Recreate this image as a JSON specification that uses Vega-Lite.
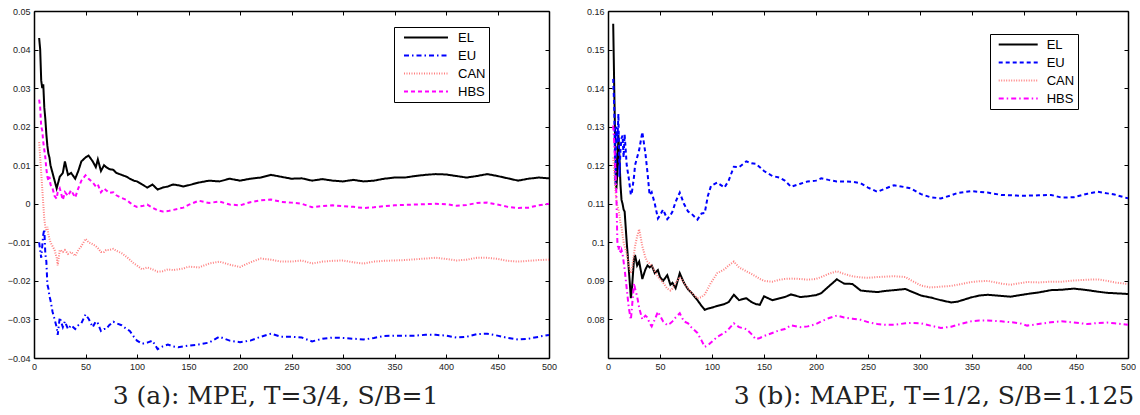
{
  "$schema": "https://vega.github.io/schema/vega-lite/v6.json",
  "padding": {"left": 7, "top": 7, "right": 0, "bottom": 0},
  "background": "white",
  "config": {
    "view": {"stroke": null},
    "axis": {"grid": false, "domainColor": "black", "domainWidth": 1.5, "tickColor": "black", "tickWidth": 1, "tickSize": -4, "labelFont": "Liberation Sans", "labelFontSize": 9, "labelColor": "#222", "labelPadding": 8, "title": null, "labelFlush": false},
    "legend": {"orient": "none", "title": null, "strokeColor": "black", "fillColor": "white", "symbolType": "M-1,0H6.33", "symbolSize": 144, "labelFont": "Liberation Sans", "labelFontSize": 13, "labelColor": "black", "rowPadding": 4, "padding": 3.5}
  },
  "datasets": {
    "mpe": [
      {"x":5,"EL":0.043,"EU":-0.010,"CAN":0.016,"HBS":0.027},
      {"x":6,"EL":0.040,"EU":-0.012,"CAN":0.012,"HBS":0.025},
      {"x":7,"EL":0.032,"EU":-0.014,"CAN":0.008,"HBS":0.020},
      {"x":8,"EL":0.030,"EU":-0.011,"CAN":0.004,"HBS":0.019},
      {"x":9,"EL":0.031,"EU":-0.008,"CAN":0.000,"HBS":0.016},
      {"x":10,"EL":0.025,"EU":-0.0066,"CAN":-0.004,"HBS":0.014},
      {"x":11,"EL":0.022,"EU":-0.013,"CAN":-0.006,"HBS":0.012},
      {"x":12,"EL":0.018,"EU":-0.015,"CAN":-0.007,"HBS":0.009},
      {"x":13,"EL":0.015,"EU":-0.021,"CAN":-0.006,"HBS":0.007},
      {"x":14,"EL":0.013,"EU":-0.022,"CAN":-0.008,"HBS":0.006},
      {"x":15,"EL":0.012,"EU":-0.024,"CAN":-0.009,"HBS":0.007},
      {"x":16,"EL":0.010,"EU":-0.025,"CAN":-0.010,"HBS":0.005},
      {"x":18,"EL":0.008,"EU":-0.028,"CAN":-0.011,"HBS":0.004},
      {"x":20,"EL":0.006,"EU":-0.030,"CAN":-0.012,"HBS":0.002},
      {"x":22,"EL":0.004,"EU":-0.032,"CAN":-0.014,"HBS":0.0013},
      {"x":23,"EL":0.005,"EU":-0.034,"CAN":-0.016,"HBS":0.003},
      {"x":25,"EL":0.007,"EU":-0.0295,"CAN":-0.012,"HBS":0.004},
      {"x":28,"EL":0.008,"EU":-0.032,"CAN":-0.0125,"HBS":0.001},
      {"x":30,"EL":0.011,"EU":-0.0305,"CAN":-0.012,"HBS":0.003},
      {"x":33,"EL":0.0075,"EU":-0.0325,"CAN":-0.013,"HBS":0.002},
      {"x":36,"EL":0.008,"EU":-0.0315,"CAN":-0.0125,"HBS":0.0035},
      {"x":40,"EL":0.0065,"EU":-0.0325,"CAN":-0.0135,"HBS":0.0016},
      {"x":43,"EL":0.0085,"EU":-0.0315,"CAN":-0.012,"HBS":0.004},
      {"x":46,"EL":0.011,"EU":-0.031,"CAN":-0.011,"HBS":0.006},
      {"x":50,"EL":0.012,"EU":-0.0287,"CAN":-0.0091,"HBS":0.0074},
      {"x":53,"EL":0.0125,"EU":-0.0298,"CAN":-0.010,"HBS":0.0065},
      {"x":57,"EL":0.011,"EU":-0.032,"CAN":-0.0105,"HBS":0.0055},
      {"x":60,"EL":0.0095,"EU":-0.0305,"CAN":-0.011,"HBS":0.0045},
      {"x":62,"EL":0.0115,"EU":-0.031,"CAN":-0.0115,"HBS":0.005},
      {"x":65,"EL":0.0085,"EU":-0.033,"CAN":-0.0125,"HBS":0.003},
      {"x":68,"EL":0.010,"EU":-0.0325,"CAN":-0.0125,"HBS":0.004},
      {"x":70,"EL":0.0095,"EU":-0.0325,"CAN":-0.012,"HBS":0.0035},
      {"x":73,"EL":0.009,"EU":-0.0315,"CAN":-0.012,"HBS":0.0028},
      {"x":77,"EL":0.0088,"EU":-0.0306,"CAN":-0.0117,"HBS":0.003},
      {"x":80,"EL":0.008,"EU":-0.031,"CAN":-0.0122,"HBS":0.0022},
      {"x":85,"EL":0.0075,"EU":-0.0315,"CAN":-0.0128,"HBS":0.0015},
      {"x":90,"EL":0.007,"EU":-0.0325,"CAN":-0.0138,"HBS":0.001},
      {"x":93,"EL":0.0065,"EU":-0.033,"CAN":-0.0145,"HBS":0.0003},
      {"x":97,"EL":0.006,"EU":-0.0345,"CAN":-0.0155,"HBS":-0.0005},
      {"x":100,"EL":0.0058,"EU":-0.0355,"CAN":-0.016,"HBS":-0.0008},
      {"x":105,"EL":0.005,"EU":-0.0363,"CAN":-0.017,"HBS":-0.0006},
      {"x":110,"EL":0.0042,"EU":-0.036,"CAN":-0.0165,"HBS":-0.0002},
      {"x":115,"EL":0.005,"EU":-0.0355,"CAN":-0.017,"HBS":-0.001},
      {"x":120,"EL":0.0037,"EU":-0.0377,"CAN":-0.0176,"HBS":-0.0017},
      {"x":125,"EL":0.0042,"EU":-0.037,"CAN":-0.0175,"HBS":-0.002},
      {"x":130,"EL":0.0045,"EU":-0.0365,"CAN":-0.017,"HBS":-0.0019},
      {"x":135,"EL":0.005,"EU":-0.037,"CAN":-0.0172,"HBS":-0.0016},
      {"x":140,"EL":0.0048,"EU":-0.0372,"CAN":-0.017,"HBS":-0.0013},
      {"x":145,"EL":0.0045,"EU":-0.037,"CAN":-0.0168,"HBS":-0.001},
      {"x":150,"EL":0.0048,"EU":-0.0368,"CAN":-0.0163,"HBS":-0.0003},
      {"x":160,"EL":0.0055,"EU":-0.0365,"CAN":-0.0165,"HBS":0.0008},
      {"x":170,"EL":0.006,"EU":-0.036,"CAN":-0.0155,"HBS":0.0002},
      {"x":180,"EL":0.0058,"EU":-0.0345,"CAN":-0.015,"HBS":0.0006},
      {"x":190,"EL":0.0065,"EU":-0.0355,"CAN":-0.0158,"HBS":-0.0002},
      {"x":200,"EL":0.006,"EU":-0.0359,"CAN":-0.0164,"HBS":-0.0004},
      {"x":210,"EL":0.0065,"EU":-0.0355,"CAN":-0.0152,"HBS":0.0004},
      {"x":220,"EL":0.0068,"EU":-0.0345,"CAN":-0.0142,"HBS":0.0009},
      {"x":230,"EL":0.0075,"EU":-0.0337,"CAN":-0.0145,"HBS":0.0011},
      {"x":240,"EL":0.007,"EU":-0.0345,"CAN":-0.015,"HBS":0.0005},
      {"x":250,"EL":0.0065,"EU":-0.0345,"CAN":-0.015,"HBS":0.0003},
      {"x":260,"EL":0.0066,"EU":-0.0347,"CAN":-0.0147,"HBS":0.0},
      {"x":270,"EL":0.006,"EU":-0.0357,"CAN":-0.0155,"HBS":-0.0009},
      {"x":280,"EL":0.0064,"EU":-0.035,"CAN":-0.015,"HBS":-0.0006},
      {"x":290,"EL":0.006,"EU":-0.0347,"CAN":-0.0148,"HBS":-0.0004},
      {"x":300,"EL":0.0058,"EU":-0.0348,"CAN":-0.0147,"HBS":-0.0006},
      {"x":310,"EL":0.0062,"EU":-0.035,"CAN":-0.0152,"HBS":-0.0008},
      {"x":320,"EL":0.0058,"EU":-0.0352,"CAN":-0.0155,"HBS":-0.0011},
      {"x":330,"EL":0.006,"EU":-0.0348,"CAN":-0.015,"HBS":-0.0009},
      {"x":340,"EL":0.0065,"EU":-0.0343,"CAN":-0.0148,"HBS":-0.0006},
      {"x":350,"EL":0.0068,"EU":-0.0342,"CAN":-0.0147,"HBS":-0.0004},
      {"x":360,"EL":0.0068,"EU":-0.0342,"CAN":-0.0146,"HBS":-0.0003},
      {"x":370,"EL":0.0072,"EU":-0.0342,"CAN":-0.0144,"HBS":-0.0002},
      {"x":380,"EL":0.0075,"EU":-0.034,"CAN":-0.0142,"HBS":-0.0001},
      {"x":390,"EL":0.0077,"EU":-0.034,"CAN":-0.014,"HBS":0.0},
      {"x":400,"EL":0.0076,"EU":-0.0342,"CAN":-0.0143,"HBS":-0.0001},
      {"x":410,"EL":0.0072,"EU":-0.0347,"CAN":-0.0147,"HBS":-0.0005},
      {"x":420,"EL":0.0068,"EU":-0.0345,"CAN":-0.0145,"HBS":-0.0003},
      {"x":430,"EL":0.0072,"EU":-0.0338,"CAN":-0.014,"HBS":0.0002},
      {"x":440,"EL":0.0077,"EU":-0.0337,"CAN":-0.014,"HBS":0.0003},
      {"x":450,"EL":0.0072,"EU":-0.0342,"CAN":-0.0143,"HBS":-0.0002},
      {"x":460,"EL":0.0066,"EU":-0.0348,"CAN":-0.0148,"HBS":-0.0008},
      {"x":470,"EL":0.006,"EU":-0.0352,"CAN":-0.015,"HBS":-0.0011},
      {"x":480,"EL":0.0065,"EU":-0.035,"CAN":-0.0148,"HBS":-0.001},
      {"x":490,"EL":0.0068,"EU":-0.0345,"CAN":-0.0146,"HBS":-0.0004},
      {"x":500,"EL":0.0066,"EU":-0.034,"CAN":-0.0145,"HBS":0.0}
    ],
    "mape": [
      {"x":5,"EL":0.1567,"EU":0.1424,"CAN":0.122,"HBS":0.1303},
      {"x":6,"EL":0.140,"EU":0.135,"CAN":0.118,"HBS":0.126},
      {"x":7,"EL":0.125,"EU":0.115,"CAN":0.114,"HBS":0.120},
      {"x":8,"EL":0.1138,"EU":0.130,"CAN":0.111,"HBS":0.113},
      {"x":9,"EL":0.118,"EU":0.126,"CAN":0.1095,"HBS":0.1001},
      {"x":10,"EL":0.1278,"EU":0.1333,"CAN":0.1086,"HBS":0.098},
      {"x":11,"EL":0.122,"EU":0.117,"CAN":0.107,"HBS":0.099},
      {"x":12,"EL":0.115,"EU":0.124,"CAN":0.105,"HBS":0.097},
      {"x":13,"EL":0.111,"EU":0.127,"CAN":0.104,"HBS":0.098},
      {"x":14,"EL":0.110,"EU":0.1277,"CAN":0.102,"HBS":0.097},
      {"x":15,"EL":0.1085,"EU":0.122,"CAN":0.100,"HBS":0.095},
      {"x":16,"EL":0.108,"EU":0.128,"CAN":0.099,"HBS":0.093},
      {"x":18,"EL":0.100,"EU":0.120,"CAN":0.097,"HBS":0.088},
      {"x":20,"EL":0.093,"EU":0.1166,"CAN":0.094,"HBS":0.083},
      {"x":22,"EL":0.0855,"EU":0.1123,"CAN":0.092,"HBS":0.0799},
      {"x":23,"EL":0.088,"EU":0.113,"CAN":0.093,"HBS":0.083},
      {"x":25,"EL":0.0955,"EU":0.117,"CAN":0.097,"HBS":0.0894},
      {"x":26,"EL":0.0967,"EU":0.120,"CAN":0.099,"HBS":0.088},
      {"x":28,"EL":0.094,"EU":0.122,"CAN":0.1015,"HBS":0.086},
      {"x":30,"EL":0.095,"EU":0.124,"CAN":0.1034,"HBS":0.083},
      {"x":33,"EL":0.0905,"EU":0.1286,"CAN":0.099,"HBS":0.080},
      {"x":36,"EL":0.093,"EU":0.123,"CAN":0.096,"HBS":0.081},
      {"x":38,"EL":0.094,"EU":0.118,"CAN":0.095,"HBS":0.0805},
      {"x":40,"EL":0.0935,"EU":0.1123,"CAN":0.0945,"HBS":0.079},
      {"x":42,"EL":0.094,"EU":0.113,"CAN":0.094,"HBS":0.0782},
      {"x":45,"EL":0.092,"EU":0.110,"CAN":0.0925,"HBS":0.080},
      {"x":48,"EL":0.0928,"EU":0.1062,"CAN":0.091,"HBS":0.082},
      {"x":50,"EL":0.091,"EU":0.107,"CAN":0.0905,"HBS":0.081},
      {"x":53,"EL":0.090,"EU":0.1085,"CAN":0.0895,"HBS":0.0795},
      {"x":57,"EL":0.0915,"EU":0.106,"CAN":0.088,"HBS":0.0785},
      {"x":60,"EL":0.089,"EU":0.107,"CAN":0.0875,"HBS":0.079},
      {"x":62,"EL":0.0895,"EU":0.108,"CAN":0.088,"HBS":0.0795},
      {"x":65,"EL":0.0881,"EU":0.1105,"CAN":0.0895,"HBS":0.0805},
      {"x":69,"EL":0.092,"EU":0.1129,"CAN":0.091,"HBS":0.0816},
      {"x":73,"EL":0.0895,"EU":0.110,"CAN":0.0895,"HBS":0.0795},
      {"x":77,"EL":0.0878,"EU":0.108,"CAN":0.088,"HBS":0.079},
      {"x":80,"EL":0.087,"EU":0.1075,"CAN":0.087,"HBS":0.078},
      {"x":86,"EL":0.085,"EU":0.1059,"CAN":0.0855,"HBS":0.0765},
      {"x":90,"EL":0.0835,"EU":0.1075,"CAN":0.0858,"HBS":0.0745},
      {"x":93,"EL":0.0825,"EU":0.1076,"CAN":0.0865,"HBS":0.0729},
      {"x":96,"EL":0.0828,"EU":0.112,"CAN":0.088,"HBS":0.0733},
      {"x":99,"EL":0.083,"EU":0.1146,"CAN":0.0895,"HBS":0.074},
      {"x":105,"EL":0.0835,"EU":0.1155,"CAN":0.092,"HBS":0.0755},
      {"x":112,"EL":0.084,"EU":0.1142,"CAN":0.093,"HBS":0.0765},
      {"x":116,"EL":0.0845,"EU":0.116,"CAN":0.094,"HBS":0.0775},
      {"x":121,"EL":0.0864,"EU":0.1196,"CAN":0.095,"HBS":0.079},
      {"x":126,"EL":0.085,"EU":0.1195,"CAN":0.0935,"HBS":0.078},
      {"x":133,"EL":0.0855,"EU":0.121,"CAN":0.0925,"HBS":0.0775},
      {"x":138,"EL":0.0845,"EU":0.1205,"CAN":0.0918,"HBS":0.0762},
      {"x":142,"EL":0.084,"EU":0.1204,"CAN":0.0912,"HBS":0.0749},
      {"x":146,"EL":0.0838,"EU":0.1195,"CAN":0.0905,"HBS":0.0752},
      {"x":150,"EL":0.086,"EU":0.1185,"CAN":0.090,"HBS":0.0757},
      {"x":158,"EL":0.085,"EU":0.1172,"CAN":0.0898,"HBS":0.0765},
      {"x":165,"EL":0.0855,"EU":0.1168,"CAN":0.0903,"HBS":0.0772},
      {"x":170,"EL":0.0858,"EU":0.116,"CAN":0.0905,"HBS":0.0775},
      {"x":176,"EL":0.0865,"EU":0.1144,"CAN":0.0906,"HBS":0.0785},
      {"x":185,"EL":0.0858,"EU":0.1152,"CAN":0.0905,"HBS":0.078},
      {"x":192,"EL":0.086,"EU":0.1158,"CAN":0.0903,"HBS":0.0782},
      {"x":200,"EL":0.0863,"EU":0.116,"CAN":0.0905,"HBS":0.0788},
      {"x":205,"EL":0.0868,"EU":0.1166,"CAN":0.091,"HBS":0.0795},
      {"x":212,"EL":0.0885,"EU":0.1162,"CAN":0.0918,"HBS":0.0803},
      {"x":220,"EL":0.0904,"EU":0.1158,"CAN":0.0925,"HBS":0.081},
      {"x":227,"EL":0.0893,"EU":0.1158,"CAN":0.0918,"HBS":0.0805},
      {"x":235,"EL":0.0892,"EU":0.1157,"CAN":0.0912,"HBS":0.0802},
      {"x":243,"EL":0.0875,"EU":0.1153,"CAN":0.0909,"HBS":0.0799},
      {"x":250,"EL":0.0873,"EU":0.1142,"CAN":0.0908,"HBS":0.0793},
      {"x":259,"EL":0.0871,"EU":0.1131,"CAN":0.091,"HBS":0.0788},
      {"x":267,"EL":0.0874,"EU":0.114,"CAN":0.0911,"HBS":0.0786},
      {"x":275,"EL":0.0876,"EU":0.1148,"CAN":0.0912,"HBS":0.0786},
      {"x":286,"EL":0.0879,"EU":0.1143,"CAN":0.091,"HBS":0.079},
      {"x":291,"EL":0.0873,"EU":0.114,"CAN":0.0902,"HBS":0.0791},
      {"x":301,"EL":0.0862,"EU":0.1125,"CAN":0.0888,"HBS":0.079},
      {"x":310,"EL":0.0857,"EU":0.1117,"CAN":0.0883,"HBS":0.0784},
      {"x":320,"EL":0.085,"EU":0.1114,"CAN":0.0885,"HBS":0.0778},
      {"x":330,"EL":0.0844,"EU":0.1122,"CAN":0.0887,"HBS":0.0781},
      {"x":336,"EL":0.0846,"EU":0.1128,"CAN":0.089,"HBS":0.0786},
      {"x":349,"EL":0.0857,"EU":0.1133,"CAN":0.0897,"HBS":0.0795},
      {"x":357,"EL":0.0862,"EU":0.1131,"CAN":0.0899,"HBS":0.0797},
      {"x":365,"EL":0.0864,"EU":0.1129,"CAN":0.09,"HBS":0.0797},
      {"x":378,"EL":0.0861,"EU":0.1123,"CAN":0.0893,"HBS":0.0795},
      {"x":387,"EL":0.0859,"EU":0.1122,"CAN":0.089,"HBS":0.0793},
      {"x":396,"EL":0.0863,"EU":0.1121,"CAN":0.0894,"HBS":0.079},
      {"x":403,"EL":0.0866,"EU":0.1121,"CAN":0.0897,"HBS":0.0784},
      {"x":414,"EL":0.087,"EU":0.1122,"CAN":0.0896,"HBS":0.0788},
      {"x":426,"EL":0.0876,"EU":0.1123,"CAN":0.0898,"HBS":0.0793},
      {"x":436,"EL":0.0877,"EU":0.1116,"CAN":0.0898,"HBS":0.0795},
      {"x":448,"EL":0.088,"EU":0.1117,"CAN":0.0901,"HBS":0.0792},
      {"x":461,"EL":0.0876,"EU":0.1126,"CAN":0.0903,"HBS":0.0788},
      {"x":471,"EL":0.0872,"EU":0.1131,"CAN":0.0904,"HBS":0.0791},
      {"x":480,"EL":0.0869,"EU":0.1127,"CAN":0.09,"HBS":0.0792},
      {"x":487,"EL":0.0868,"EU":0.1124,"CAN":0.0896,"HBS":0.079},
      {"x":500,"EL":0.0866,"EU":0.1114,"CAN":0.0892,"HBS":0.0786}
    ]
  },
  "spacing": 29,
  "resolve": {"scale": {"color": "independent", "strokeDash": "independent", "strokeWidth": "independent"}, "legend": {"color": "independent", "strokeDash": "independent", "strokeWidth": "independent"}},
  "hconcat": [
    {
      "width": 515,
      "height": 347,
      "data": {"name": "mpe"},
      "transform": [{"fold": ["EL", "EU", "CAN", "HBS"], "as": ["series", "value"]}],
      "title": {"text": "3 (a): MPE, T=3/4, S/B=1", "orient": "bottom", "anchor": "middle", "dx": -16, "offset": 13, "font": "DejaVu Serif", "fontSize": 25, "fontWeight": "normal", "color": "#222"},
      "layer": [
        {
          "mark": {"type": "line", "clip": true},
          "encoding": {
            "x": {"field": "x", "type": "quantitative", "scale": {"domain": [0, 500], "nice": false, "zero": false}, "axis": {"values": [0,50,100,150,200,250,300,350,400,450,500], "format": "d"}},
            "y": {"field": "value", "type": "quantitative", "scale": {"domain": [-0.04, 0.05], "nice": false, "zero": false}, "axis": {"values": [-0.04,-0.03,-0.02,-0.01,0,0.01,0.02,0.03,0.04,0.05], "format": "~g"}},
            "color": {"field": "series", "type": "nominal", "scale": {"domain": ["EL", "EU", "CAN", "HBS"], "range": ["#000000", "#0000ff", "#ff8080", "#ff00ff"]}, "legend": {"legendX": 360, "legendY": 16, "symbolOffset": 5.5, "labelOffset": 41, "labelExpr": "datum.label + '              '"}},
            "strokeDash": {"field": "series", "type": "nominal", "scale": {"domain": ["EL", "EU", "CAN", "HBS"], "range": [[1, 0], [5, 3, 1.5, 3], [1, 1.5], [4, 3]]}},
            "strokeWidth": {"field": "series", "type": "nominal", "scale": {"domain": ["EL", "EU", "CAN", "HBS"], "range": [2, 2, 1, 2]}}
          }
        },
        {
          "mark": {"type": "line", "opacity": 0},
          "encoding": {
            "x": {"field": "x", "type": "quantitative", "axis": {"orient": "top", "labels": false, "values": [0,50,100,150,200,250,300,350,400,450,500]}},
            "y": {"field": "value", "type": "quantitative", "axis": {"orient": "right", "labels": false, "values": [-0.04,-0.03,-0.02,-0.01,0,0.01,0.02,0.03,0.04,0.05]}}
          }
        }
      ],
      "resolve": {"axis": {"x": "independent", "y": "independent"}}
    },
    {
      "width": 520,
      "height": 347,
      "data": {"name": "mape"},
      "transform": [{"fold": ["EL", "EU", "CAN", "HBS"], "as": ["series", "value"]}],
      "title": {"text": "3 (b): MAPE, T=1/2, S/B=1.125", "orient": "bottom", "anchor": "middle", "dx": 66, "offset": 13, "font": "DejaVu Serif", "fontSize": 25, "fontWeight": "normal", "color": "#222"},
      "layer": [
        {
          "mark": {"type": "line", "clip": true},
          "encoding": {
            "x": {"field": "x", "type": "quantitative", "scale": {"domain": [0, 500], "nice": false, "zero": false}, "axis": {"values": [0,50,100,150,200,250,300,350,400,450,500], "format": "d"}},
            "y": {"field": "value", "type": "quantitative", "scale": {"domain": [0.07, 0.16], "nice": false, "zero": false}, "axis": {"values": [0.08,0.09,0.1,0.11,0.12,0.13,0.14,0.15,0.16], "format": "~g"}},
            "color": {"field": "series", "type": "nominal", "scale": {"domain": ["EL", "EU", "CAN", "HBS"], "range": ["#000000", "#0000ff", "#ff8080", "#ff00ff"]}, "legend": {"legendX": 382, "legendY": 23, "symbolType": "M-1,0H5.5", "symbolOffset": 4.2, "labelOffset": 35, "labelExpr": "datum.label + '           '"}},
            "strokeDash": {"field": "series", "type": "nominal", "scale": {"domain": ["EL", "EU", "CAN", "HBS"], "range": [[1, 0], [4, 3], [1, 1.5], [5, 3, 1.5, 3]]}},
            "strokeWidth": {"field": "series", "type": "nominal", "scale": {"domain": ["EL", "EU", "CAN", "HBS"], "range": [2, 2, 1, 2]}}
          }
        },
        {
          "mark": {"type": "line", "opacity": 0},
          "encoding": {
            "x": {"field": "x", "type": "quantitative", "axis": {"orient": "top", "labels": false, "values": [0,50,100,150,200,250,300,350,400,450,500]}},
            "y": {"field": "value", "type": "quantitative", "axis": {"orient": "right", "labels": false, "values": [0.08,0.09,0.1,0.11,0.12,0.13,0.14,0.15,0.16]}}
          }
        }
      ],
      "resolve": {"axis": {"x": "independent", "y": "independent"}}
    }
  ]
}
